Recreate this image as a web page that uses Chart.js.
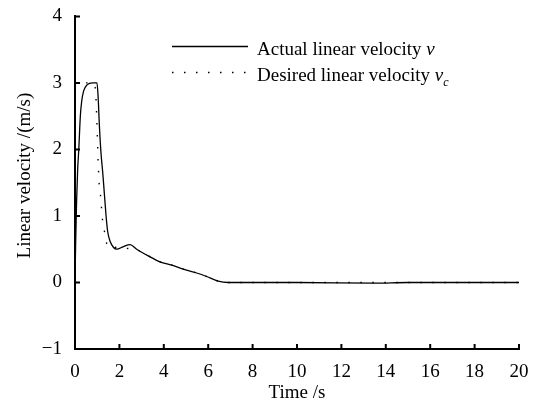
<!DOCTYPE html>
<html>
<head>
<meta charset="utf-8">
<script src="https://cdn.jsdelivr.net/npm/chart.js@4/dist/chart.umd.min.js"></script>
<style>
  html, body { margin: 0; padding: 0; background: #fff; }
  #wrap { width: 533px; height: 406px; }
</style>
</head>
<body>
<div id="wrap"><canvas id="velocityChart"></canvas></div>
<script>
// Data
const actualTime = [0, 0.03, 0.07, 0.12, 0.17, 0.24, 0.3, 0.39, 0.54, 0.8, 0.99, 1.04, 1.1, 1.17, 1.25, 1.33, 1.4, 1.47, 1.58, 1.73, 1.88, 2.18, 2.48, 2.78, 3.3, 3.83, 4.36, 4.88, 5.41, 5.93, 6.45, 6.9, 7.5, 10, 13.5, 15, 17.5, 20];
const actualVel = [0, 0.6, 1.2, 1.7, 2.0, 2.5, 2.72, 2.88, 2.97, 3.0, 3.0, 2.8, 2.35, 1.95, 1.65, 1.3, 1.0, 0.77, 0.62, 0.53, 0.5, 0.54, 0.57, 0.5, 0.4, 0.31, 0.26, 0.2, 0.15, 0.09, 0.02, 0, 0, 0, -0.01, 0, 0, 0];

const desiredTime = [0.5, 0.85, 0.91, 0.95, 0.99, 1.04, 1.09, 1.16, 1.2, 1.25, 1.35, 1.45, 2.78, 3.3, 3.83, 4.36, 4.88, 5.41, 5.93, 6.45, 6.9, 20];
const desiredVel = [3.0, 3.0, 2.93, 2.74, 2.38, 1.83, 1.46, 1.28, 1.09, 0.9, 0.73, 0.54, 0.5, 0.4, 0.31, 0.26, 0.2, 0.15, 0.09, 0.02, 0, 0];

const xTicks = [0, 2, 4, 6, 8, 10, 12, 14, 16, 18, 20];
const yTicks = [-1, 0, 1, 2, 3, 4];

const FONT = "'Liberation Serif', 'Times New Roman', serif";
const DOTS = [1.5, 10.5];

function toPoints(xs, ys) {
  return xs.map((x, i) => ({ x: x, y: ys[i] }));
}

// inward tick marks on both axes
const inwardTicks = {
  id: "inwardTicks",
  afterDraw(chart) {
    const ctx = chart.ctx;
    const xs = chart.scales.x;
    const ys = chart.scales.y;
    const area = chart.chartArea;
    ctx.save();
    ctx.strokeStyle = "#000";
    ctx.lineWidth = 2;
    ctx.beginPath();
    xTicks.forEach((t) => {
      const px = xs.getPixelForValue(t);
      ctx.moveTo(px, area.bottom);
      ctx.lineTo(px, area.bottom - 5);
    });
    yTicks.forEach((t) => {
      const py = ys.getPixelForValue(t);
      ctx.moveTo(area.left, py);
      ctx.lineTo(area.left + 5, py);
    });
    ctx.stroke();
    ctx.restore();
  },
};

// legend drawn inside the plot, with italic symbols
const innerLegend = {
  id: "innerLegend",
  afterDraw(chart) {
    const ctx = chart.ctx;
    const x0 = 172, x1 = 248, tx = 257;
    const rows = [
      { y: 46.5, dash: [], text: "Actual linear velocity ", sym: "v", sub: "" },
      { y: 72.5, dash: DOTS, text: "Desired linear velocity ", sym: "v", sub: "c" },
    ];
    ctx.save();
    rows.forEach((r) => {
      ctx.strokeStyle = "#000";
      ctx.lineWidth = r.dash.length ? 1.4 : 1.3;
      ctx.setLineDash(r.dash);
      ctx.beginPath();
      ctx.moveTo(x0, r.y);
      ctx.lineTo(x1, r.y);
      ctx.stroke();
      ctx.setLineDash([]);

      const base = r.y + 8.5;
      ctx.fillStyle = "#000";
      ctx.textBaseline = "alphabetic";
      ctx.textAlign = "left";
      ctx.font = "19px " + FONT;
      ctx.fillText(r.text, tx, base);
      let cx = tx + ctx.measureText(r.text).width;
      ctx.font = "italic 19px " + FONT;
      ctx.fillText(r.sym, cx, base);
      cx += ctx.measureText(r.sym).width;
      if (r.sub) {
        ctx.font = "italic 12px " + FONT;
        ctx.fillText(r.sub, cx, base + 5);
      }
    });
    ctx.restore();
  },
};

function initializeChart() {
  const ctx = document.getElementById("velocityChart").getContext("2d");
  new Chart(ctx, {
    type: "line",
    data: {
      datasets: [
        {
          label: "Actual linear velocity v",
          data: toPoints(actualTime, actualVel),
          borderColor: "#000",
          borderWidth: 1.3,
          pointRadius: 0,
          cubicInterpolationMode: "monotone",
          fill: false,
        },
        {
          label: "Desired linear velocity vc",
          data: toPoints(desiredTime, desiredVel),
          borderColor: "#000",
          borderWidth: 1.4,
          borderDash: DOTS,
          pointRadius: 0,
          tension: 0,
          fill: false,
        },
      ],
    },
    options: {
      responsive: true,
      maintainAspectRatio: false,
      animation: false,
      layout: { padding: { top: 15, right: 14, left: 0, bottom: 0 } },
      plugins: {
        legend: { display: false },
        tooltip: { enabled: false },
      },
      scales: {
        x: {
          type: "linear",
          min: 0,
          max: 20,
          afterBuildTicks: (scale) => {
            scale.ticks = xTicks.map((v) => ({ value: v }));
          },
          afterFit: (scale) => {
            scale.height = 57;
          },
          grid: { display: false },
          border: { display: true, color: "#000", width: 2 },
          ticks: {
            color: "#000",
            padding: 4,
            maxRotation: 0,
            font: { family: FONT, size: 19 },
          },
          title: {
            display: true,
            text: "Time /s",
            color: "#000",
            padding: { top: 0, bottom: 2 },
            font: { family: FONT, size: 19 },
          },
        },
        y: {
          type: "linear",
          min: -1,
          max: 4,
          afterBuildTicks: (scale) => {
            scale.ticks = yTicks.map((v) => ({ value: v }));
          },
          afterFit: (scale) => {
            scale.width = 75;
          },
          grid: { display: false },
          border: { display: true, color: "#000", width: 2 },
          ticks: {
            color: "#000",
            padding: 5,
            font: { family: FONT, size: 19 },
            callback: (v) => String(v).replace("-", "\u2212"),
          },
          title: {
            display: true,
            text: "   Linear velocity /(m/s)",
            color: "#000",
            padding: { top: 13.5, bottom: 0 },
            font: { family: FONT, size: 19 },
          },
        },
      },
    },
    plugins: [inwardTicks, innerLegend],
  });
}

document.addEventListener("DOMContentLoaded", () => {
  initializeChart();
});
</script>
</body>
</html>
